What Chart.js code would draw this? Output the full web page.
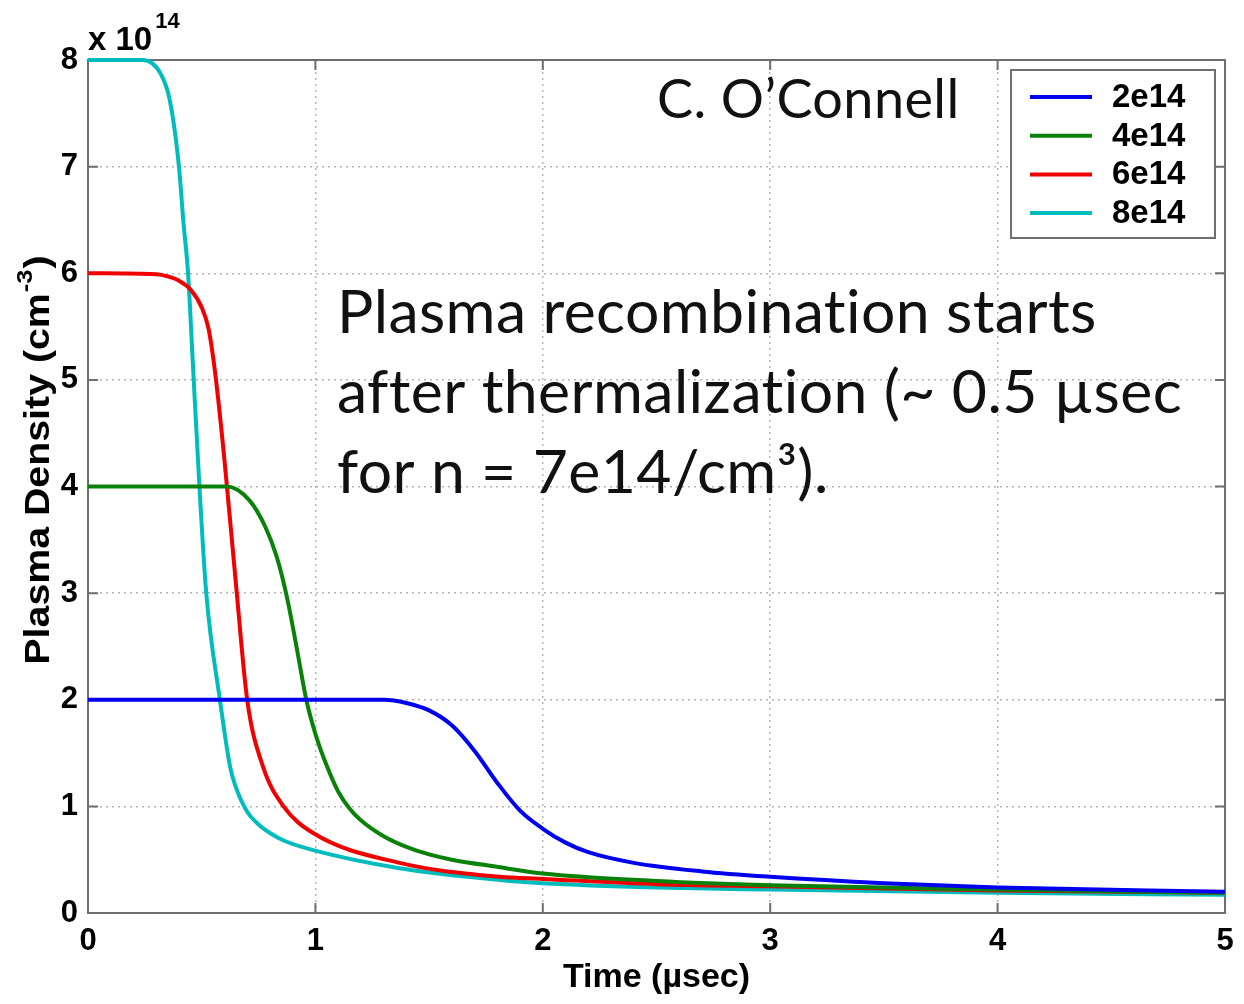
<!DOCTYPE html>
<html>
<head>
<meta charset="utf-8">
<script src="https://cdn.jsdelivr.net/npm/chart.js@4.4.1/dist/chart.umd.min.js"></script>
<style>
  html, body { margin: 0; padding: 0; background: #fff; }
  #wrap { width: 1244px; height: 1004px; }
</style>
</head>
<body>
<div id="wrap"><canvas id="densityChart" width="1244" height="1004"></canvas></div>
<script>
// initial densities, in units of 1e14 cm^-3
var seriesLabels = ['2e14', '4e14', '6e14', '8e14'];
var seriesColors = ['#0000f0', '#0a820a', '#f00000', '#00bcbc'];

// time (usec) / density (x 1e14 cm^-3) samples for each run
var time2 = [0, 0.5, 1.0, 1.3, 1.4, 1.5, 1.6, 1.7, 1.8, 1.9, 2.0, 2.1, 2.2, 2.4, 2.7, 3.0, 3.5, 4.0, 5.0];
var dens2 = [2.0, 2.0, 2.0, 2.0, 1.97, 1.90, 1.76, 1.52, 1.22, 0.96, 0.79, 0.66, 0.57, 0.47, 0.39, 0.34, 0.28, 0.24, 0.2];

var time4 = [0, 0.3, 0.61, 0.71, 0.78, 0.83, 0.875, 0.92, 0.96, 1.0, 1.05, 1.1, 1.15, 1.2, 1.3, 1.4, 1.5, 1.6, 1.81, 2.0, 2.5, 3.0, 4.0, 5.0];
var dens4 = [4.0, 4.0, 4.0, 3.87, 3.62, 3.34, 2.96, 2.46, 2.0, 1.68, 1.38, 1.14, 0.98, 0.87, 0.72, 0.62, 0.55, 0.5, 0.43, 0.37, 0.3, 0.26, 0.22, 0.19];

var time6 = [0, 0.3, 0.35, 0.40, 0.45, 0.50, 0.53, 0.56, 0.60, 0.65, 0.70, 0.77, 0.86, 0.99, 1.37, 1.81, 2.0, 2.5, 3.0, 4.0, 5.0];
var dens6 = [6.0, 5.99, 5.97, 5.93, 5.85, 5.68, 5.48, 5.05, 4.25, 3.1, 2.0, 1.37, 1.0, 0.75, 0.47, 0.34, 0.32, 0.27, 0.25, 0.21, 0.19];

var time8 = [0, 0.24, 0.32, 0.36, 0.40, 0.42, 0.44, 0.46, 0.49, 0.52, 0.58, 0.625, 0.65, 0.70, 0.75, 0.80, 0.86, 0.99, 1.37, 1.81, 2.0, 2.5, 3.0, 4.0, 5.0];
var dens8 = [8.0, 8.0, 7.87, 7.62, 7.0, 6.47, 6.0, 5.2, 4.0, 3.0, 2.0, 1.37, 1.18, 0.95, 0.83, 0.75, 0.68, 0.59, 0.42, 0.31, 0.28, 0.24, 0.22, 0.19, 0.17];

var xTicks = [0, 1, 2, 3, 4, 5];
var yTicks = [0, 1, 2, 3, 4, 5, 6, 7, 8];

var noteLines = ['Plasma recombination starts', 'after thermalization (~ 0.5 \u00b5sec', 'for n = 7e14/cm\u00b3).'];
var authorText = 'C. O\u2019Connell';

function toPoints(xs, ys) {
  return xs.map(function (t, i) { return { x: t, y: ys[i] }; });
}

var runs = [[time2, dens2], [time4, dens4], [time6, dens6], [time8, dens8]];
var datasets = runs.map(function (r, i) {
  return {
    label: seriesLabels[i],
    data: toPoints(r[0], r[1]),
    borderColor: seriesColors[i],
    backgroundColor: seriesColors[i],
    borderWidth: 4,
    pointRadius: 0,
    cubicInterpolationMode: 'monotone',
    clip: 6
  };
});

var boldFont = '"Liberation Sans", Arial, sans-serif';

// box around the axes, inward tick marks, exponent label and y title
var axesBox = {
  id: 'axesBox',
  beforeDatasetsDraw: function (chart) {
    var ctx = chart.ctx, a = chart.chartArea;
    var xs = chart.scales.x, ys = chart.scales.y;
    ctx.save();
    ctx.strokeStyle = '#6e6e6e';
    ctx.lineWidth = 2;
    ctx.strokeRect(a.left, a.top, a.right - a.left, a.bottom - a.top);
    ctx.beginPath();
    xTicks.forEach(function (t) {
      var px = xs.getPixelForValue(t);
      ctx.moveTo(px, a.bottom); ctx.lineTo(px, a.bottom - 10);
      ctx.moveTo(px, a.top); ctx.lineTo(px, a.top + 10);
    });
    yTicks.forEach(function (v) {
      var py = ys.getPixelForValue(v);
      ctx.moveTo(a.left, py); ctx.lineTo(a.left + 10, py);
      ctx.moveTo(a.right, py); ctx.lineTo(a.right - 10, py);
    });
    ctx.stroke();
    ctx.restore();
  },
  afterDraw: function (chart) {
    var ctx = chart.ctx, a = chart.chartArea;
    ctx.save();
    ctx.fillStyle = '#000';
    ctx.textBaseline = 'alphabetic';
    ctx.textAlign = 'left';
    // x 10^14
    ctx.font = 'bold 33px ' + boldFont;
    ctx.fillText('x 10', a.left, 50);
    var w = ctx.measureText('x 10').width;
    ctx.font = 'bold 22px ' + boldFont;
    ctx.fillText('14', a.left + 3 + w, 28);
    ctx.restore();

    // y axis title with superscript, squeezed across its baseline
    ctx.save();
    ctx.fillStyle = '#000';
    ctx.translate(39, 460);
    ctx.rotate(-Math.PI / 2);
    ctx.scale(1, 0.88);
    var main = 'Plasma Density (cm', sup = '-3', tail = ')';
    var fs = 30;
    ctx.font = 'bold ' + fs + 'px ' + boldFont;
    var w1 = ctx.measureText(main).width, w3 = ctx.measureText(tail).width;
    ctx.font = 'bold ' + (fs * 0.65) + 'px ' + boldFont;
    var w2 = ctx.measureText(sup).width;
    fs = fs * 410 / (w1 + w2 + w3 + 2);
    ctx.font = 'bold ' + fs + 'px ' + boldFont;
    w1 = ctx.measureText(main).width; w3 = ctx.measureText(tail).width;
    ctx.font = 'bold ' + (fs * 0.65) + 'px ' + boldFont;
    w2 = ctx.measureText(sup).width;
    var x0 = -(w1 + w2 + w3 + 2) / 2;
    ctx.textBaseline = 'middle';
    ctx.textAlign = 'left';
    ctx.font = 'bold ' + fs + 'px ' + boldFont;
    ctx.fillText(main, x0, 0);
    ctx.fillText(tail, x0 + w1 + w2 + 2, 0);
    ctx.font = 'bold ' + (fs * 0.65) + 'px ' + boldFont;
    ctx.fillText(sup, x0 + w1 + 1, -fs * 0.38);
    ctx.restore();
  }
};

// legend box in the upper right of the axes
var boxLegend = {
  id: 'boxLegend',
  afterDraw: function (chart) {
    var ctx = chart.ctx;
    var bx = 1011, by = 70, bw = 204, bh = 168;
    ctx.save();
    ctx.fillStyle = '#fff';
    ctx.fillRect(bx, by, bw, bh);
    ctx.strokeStyle = '#6e6e6e';
    ctx.lineWidth = 2;
    ctx.strokeRect(bx, by, bw, bh);
    ctx.font = 'bold 33px ' + boldFont;
    ctx.textBaseline = 'middle';
    ctx.textAlign = 'left';
    chart.data.datasets.forEach(function (ds, i) {
      var yy = by + 27 + i * 38.7;
      ctx.strokeStyle = ds.borderColor;
      ctx.lineWidth = 4;
      ctx.beginPath();
      ctx.moveTo(bx + 19, yy); ctx.lineTo(bx + 81, yy);
      ctx.stroke();
      ctx.fillStyle = '#000';
      ctx.fillText(ds.label, bx + 101, yy + 1);
    });
    ctx.restore();
  }
};

// annotation text
var notes = {
  id: 'notes',
  afterDraw: function (chart) {
    var ctx = chart.ctx;
    var face = 'Lato, "Open Sans", sans-serif';
    ctx.save();
    ctx.fillStyle = '#111';
    ctx.textAlign = 'left';
    ctx.textBaseline = 'alphabetic';
    ctx.letterSpacing = '0.4px';
    ctx.font = '60px ' + face;
    var size = 60 * 760 / ctx.measureText(noteLines[0]).width;
    ctx.font = size + 'px ' + face;
    noteLines.forEach(function (line, i) {
      ctx.fillText(line, 337, 333 + i * 80);
    });
    ctx.font = '54px ' + face;
    ctx.fillText(authorText, 657, 118);
    ctx.restore();
  }
};

new Chart(document.getElementById('densityChart'), {
  type: 'line',
  data: { datasets: datasets },
  options: {
    responsive: false,
    animation: false,
    layout: { padding: { top: 60, right: 19, left: 0, bottom: 0 } },
    plugins: { legend: { display: false }, tooltip: { enabled: false } },
    scales: {
      x: {
        type: 'linear',
        min: 0, max: 5,
        afterFit: function (s) { s.height = 91; },
        afterBuildTicks: function (s) { s.ticks = xTicks.map(function (v) { return { value: v }; }); },
        grid: { color: '#b4b4b4', lineWidth: 1.5, drawTicks: false },
        border: { display: false, dash: [2, 4] },
        ticks: { color: '#000', padding: 10, maxRotation: 0, font: { family: boldFont, size: 31, weight: 'bold' } },
        title: { display: true, text: 'Time (\u00b5sec)', color: '#000', padding: { top: 0, bottom: 6 }, font: { family: boldFont, size: 34, weight: 'bold' } }
      },
      y: {
        min: 0, max: 8,
        afterFit: function (s) { s.width = 88; },
        afterBuildTicks: function (s) { s.ticks = yTicks.map(function (v) { return { value: v }; }); },
        grid: { color: '#b4b4b4', lineWidth: 1.5, drawTicks: false },
        border: { display: false, dash: [2, 4] },
        ticks: { color: '#000', padding: 10, font: { family: boldFont, size: 31, weight: 'bold' } }
      }
    }
  },
  plugins: [axesBox, boxLegend, notes]
});
</script>
</body>
</html>
